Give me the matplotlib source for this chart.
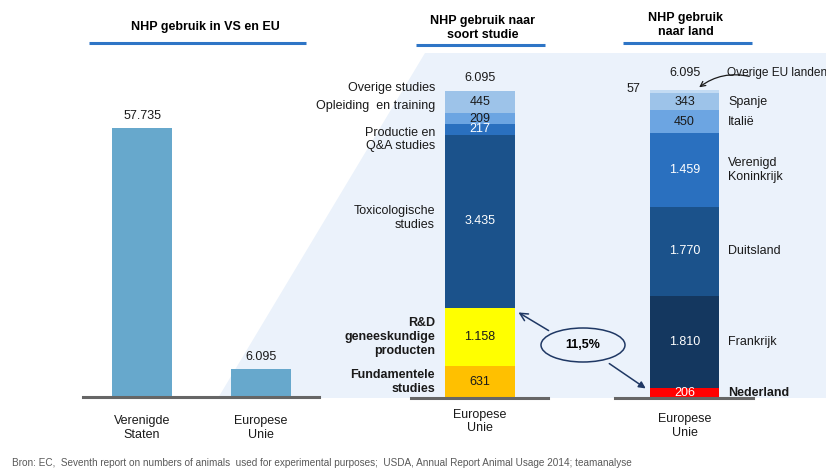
import matplotlib.pyplot as plt
from matplotlib.patches import Polygon, Ellipse

plt.rcParams['font.family'] = ['Liberation Sans', 'DejaVu Sans']
plt.rcParams['font.size'] = 9

# Data
regions = ['Verenigde\nStaten', 'Europese\nUnie']
region_nhp = [57735, 6095]

study_types = ['Fundamentele\nstudies', 'R&D\ngeneeskundige\nproducten', 'Toxicologische\nstudies',
               'Productie en\nQ&A studies', 'Opleiding  en training', 'Overige studies']
study_nhp = [631, 1158, 3435, 217, 209, 445]

countries = ['Nederland', 'Frankrijk', 'Duitsland', 'Verenigd\nKoninkrijk', 'Italië', 'Spanje',
             'Overige EU landen']
country_nhp = [206, 1810, 1770, 1459, 450, 343, 57]

# styling
study_colors = ['#ffc000', '#ffff00', '#1b528b', '#2a70bf', '#6ca5e2', '#9dc3e9']
study_txt = ['#1a1a1a', '#1a1a1a', 'white', 'white', '#1a1a1a', '#1a1a1a']
study_bold = [True, True, False, False, False, False]
study_nudge = [0, 0, -3, 10, -13, -14]   # label shift in px (down is +)
country_colors = ['#ff0000', '#14375f', '#1b528b', '#2a70bf', '#6ca5e2', '#9dc3e9', '#c3dbf3']
country_txt = ['white', 'white', 'white', 'white', '#1a1a1a', '#1a1a1a', '#1a1a1a']

W, H = 826, 474
PT = 0.72  # px -> points


def nl(v):
    return f"{v:,}".replace(',', '.')


fig = plt.figure(figsize=(W / 100, H / 100), dpi=100)


def px_axes(x0, y0, x1, y1, **kw):
    return fig.add_axes([x0 / W, 1 - y1 / H, (x1 - x0) / W, (y1 - y0) / H], **kw)


# background "zoom" shape
bg = fig.add_axes([0, 0, 1, 1])
bg.set_xlim(0, W)
bg.set_ylim(H, 0)
bg.axis('off')
bg.add_patch(Polygon([(425, 53), (W, 53), (W, 398), (218, 398)], closed=True,
                     facecolor='#ebf2fb', edgecolor='none'))


def style(ax):
    ax.patch.set_alpha(0)
    for s in ['top', 'left', 'right']:
        ax.spines[s].set_visible(False)
    ax.spines['bottom'].set_color('#666666')
    ax.spines['bottom'].set_linewidth(2.2)
    ax.set_yticks([])


# left chart
axL = px_axes(83, 60, 319, 397)
style(axL)
axL.bar([0, 1], region_nhp, width=60 / 119, color='#67a8cc')
axL.set_xlim(-0.496, 1.487)
axL.set_ylim(0, region_nhp[0] * 337 / 269)
for i, v in enumerate(region_nhp):
    axL.annotate(nl(v), (i, v), xytext=(0, 4), textcoords='offset points',
                 ha='center', va='bottom', color='#1a1a1a')
axL.set_xticks([0, 1])
axL.set_xticklabels(regions, color='#1a1a1a', linespacing=1.25)
axL.tick_params(axis='x', length=0, pad=13)

# middle chart: by study type
axM = px_axes(411, 60, 548, 398)
style(axM)
axM.set_xlim(-69 / 70, 68 / 70)
axM.set_ylim(0, sum(study_nhp) * 338 / 307)
bottom = 0
for lab, v, c, tc, b, dy in zip(study_types, study_nhp, study_colors, study_txt, study_bold, study_nudge):
    axM.bar(0, v, bottom=bottom, width=1, color=c)
    mid = bottom + v / 2
    axM.text(0, mid, nl(v), ha='center', va='center', color=tc)
    axM.annotate(lab, (-0.5, mid), xytext=(-10 * PT, -dy * PT), textcoords='offset points',
                 ha='right', va='center', color='#1a1a1a',
                 fontweight='bold' if b else 'normal', linespacing=1.2)
    bottom += v
axM.annotate(nl(sum(study_nhp)), (0, bottom), xytext=(0, 5), textcoords='offset points',
             ha='center', va='bottom', color='#1a1a1a')
axM.set_xticks([0])
axM.set_xticklabels(['Europese\nUnie'], color='#1a1a1a', linespacing=1.15)
axM.tick_params(axis='x', length=0, pad=8)

# right chart: by country
axR = px_axes(615, 60, 753, 398)
style(axR)
axR.set_xlim(-69.5 / 69, 68.5 / 69)
axR.set_ylim(0, sum(country_nhp) * 338 / 308)
bottom = 0
for i, (lab, v, c, tc) in enumerate(zip(countries, country_nhp, country_colors, country_txt)):
    axR.bar(0, v, bottom=bottom, width=1, color=c)
    mid = bottom + v / 2
    if i < len(countries) - 1:
        axR.text(0, mid, nl(v), ha='center', va='center', color=tc)
        axR.annotate(lab, (0.5, mid), xytext=(9 * PT, 0), textcoords='offset points',
                     ha='left', va='center', color='#1a1a1a', linespacing=1.2,
                     fontweight='bold' if lab == 'Nederland' else 'normal')
    else:
        axR.annotate(nl(v), (-0.5, mid), xytext=(-10 * PT, 2), textcoords='offset points',
                     ha='right', va='center', color='#1a1a1a')
    bottom += v
axR.annotate(nl(sum(country_nhp)), (0, bottom), xytext=(0, 8), textcoords='offset points',
             ha='center', va='bottom', color='#1a1a1a')
axR.set_xticks([0])
axR.set_xticklabels(['Europese\nUnie'], color='#1a1a1a', linespacing=1.15)
axR.tick_params(axis='x', length=0, pad=11)

# overlay: titles, callouts, source
ov = fig.add_axes([0, 0, 1, 1], zorder=5)
ov.set_xlim(0, W)
ov.set_ylim(H, 0)
ov.axis('off')
ov.patch.set_alpha(0)

ov.text(205, 27, 'NHP gebruik in VS en EU', ha='center', va='center', fontweight='bold')
ov.text(483, 28, 'NHP gebruik naar\nsoort studie', ha='center', va='center', fontweight='bold',
        linespacing=1.2)
ov.text(686, 25, 'NHP gebruik\nnaar land', ha='center', va='center', fontweight='bold',
        linespacing=1.3)
for x0, x1, y in [(89, 306, 43), (416, 545, 45), (623, 752, 43)]:
    ov.plot([x0, x1], [y, y], color='#2e75c6', lw=2.2, solid_capstyle='butt')

# Overige EU landen call-out
ov.text(727, 73, countries[-1], ha='left', va='center', color='#1a1a1a', fontsize=8.6)
ov.annotate('', xy=(697, 89), xytext=(752, 77),
            arrowprops=dict(arrowstyle='->', color='#1a1a1a', lw=0.9,
                            connectionstyle='arc3,rad=0.25'))

# share of Nederland in R&D + fundamentele
share = country_nhp[0] / (study_nhp[0] + study_nhp[1]) * 100
ov.add_patch(Ellipse((583, 345), 84, 34, facecolor='none', edgecolor='#1f3864', lw=1.1))
ov.text(583, 345, f"{share:.1f}%".replace('.', ','), ha='center', va='center', fontweight='bold')
ov.annotate('', xy=(516, 311), xytext=(551, 332),
            arrowprops=dict(arrowstyle='->', color='#1f3864', lw=1.1, mutation_scale=14))
ov.annotate('', xy=(648, 390), xytext=(607, 362),
            arrowprops=dict(arrowstyle='-|>', color='#1f3864', lw=1.1, mutation_scale=10))

ov.text(12, 463, 'Bron: EC,  Seventh report on numbers of animals  used for experimental purposes;  '
        'USDA, Annual Report Animal Usage 2014; teamanalyse',
        ha='left', va='center', fontsize=7.2, color='#595959')

fig.savefig('out.png', dpi=100)
